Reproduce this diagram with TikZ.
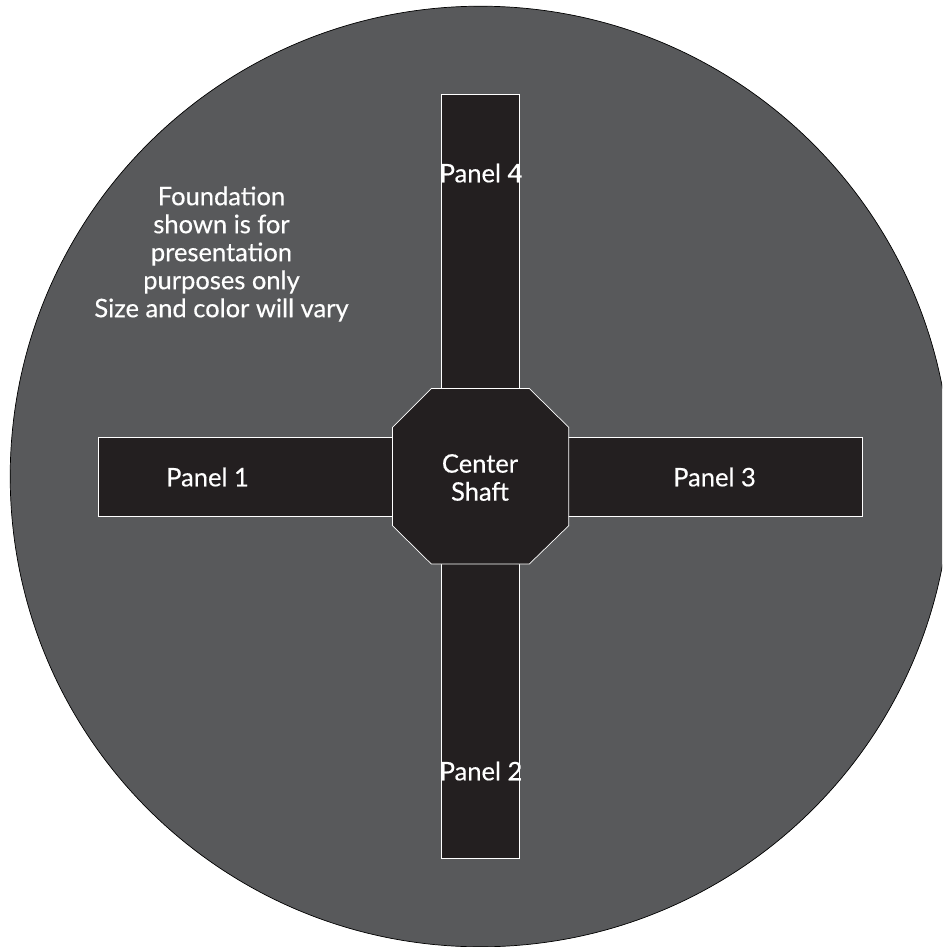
\documentclass[tikz,border=0pt]{standalone}
\usepackage{fontspec}
\setmainfont[FakeBold=0.4]{Lato}
\definecolor{foundation}{HTML}{58595B}
\definecolor{panelfill}{HTML}{231F20}
\tikzset{
  panelbox/.style={draw=white,line width=0.7pt,fill=panelfill},
  lbl/.style={text=white,font=\fontsize{25.5}{28}\selectfont,align=center,inner sep=0pt},
}
\begin{document}
\begin{tikzpicture}[x=1pt,y=-1pt]
\useasboundingbox (0,0) rectangle (942,947);
\begin{scope}
\clip (0,0) rectangle (942,947);
\fill[white] (0,0) rectangle (942,947);
\draw[fill=foundation,draw=black,line width=0.7pt] (480.5,476.5) circle[radius=470.3];
\draw[panelbox] (98.5,437) rectangle (862.5,516);
\draw[panelbox] (441.5,94) rectangle (519.8,858);
\draw[panelbox] (431.3,388.5) -- (529.3,388.5) -- (568.7,427.3) -- (568.7,525.7) -- (529.3,564) -- (431.3,564) -- (392.5,525.7) -- (392.5,427.3) -- cycle;
\end{scope}
\node[lbl] (p1) at (207.5,477) {Panel 1};
\node[lbl] (p2) at (481,771) {Panel 2};
\node[lbl] (p3) at (714.5,477) {Panel 3};
\node[lbl] (p4) at (481,173) {Panel 4};
\node[lbl] (shaft) at (480,477.5) {Center\\Shaft};
\node[lbl] (note) at (221.5,254) {Foundation\\shown is for\\presentation\\purposes only\\Size and color will vary};
\end{tikzpicture}
\end{document}
